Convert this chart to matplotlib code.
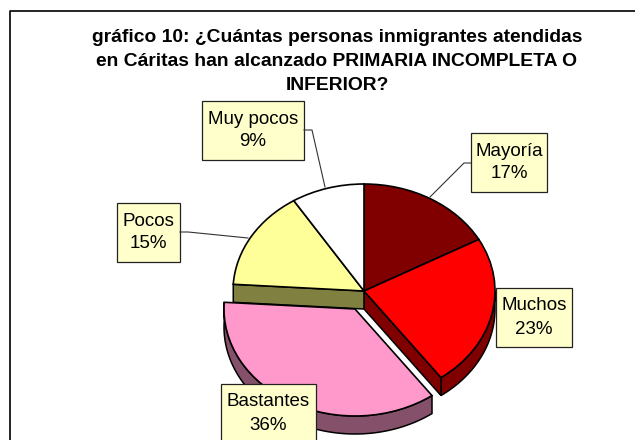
import numpy as np
from matplotlib import pyplot as plt
from matplotlib.patches import Rectangle

labels = ['Mayoría', 'Muchos', 'Bastantes', 'Pocos', 'Muy pocos']
values = [17, 23, 36, 15, 9]
colors = ['#800000', '#FF0000', '#FF99CC', '#FFFF99', '#FFFFFF']
title_lines = ['gráfico 10: ¿Cuántas personas inmigrantes atendidas',
               'en Cáritas han alcanzado PRIMARIA INCOMPLETA O',
               'INFERIOR?']

plt.rcParams['font.family'] = ['Liberation Sans', 'DejaVu Sans']

# pie geometry, in pixels of the 635x440 picture
cx, cy, rx, ry = 364, 291, 131, 107
depth = 18 / ry
shift = (-9 / rx, -18 / ry)

# label box (left, top, width, height) and leader line, in pixels
boxes = [(471, 133, 76, 59), (496, 288, 76, 59), (221, 384, 95, 59), (117, 203, 63, 59), (202, 101, 102, 59)]
leaders = [[(471, 163), (464, 163), (430, 197)], None, None,
           [(180, 232), (188, 232), (248, 238)], [(304, 130), (312, 130), (325, 187)]]

fig = plt.figure(figsize=(6.35, 4.4), dpi=100, facecolor='white')
ax = fig.add_axes([0, 0, 1, 1])
wedges, _ = ax.pie(values, colors=colors, startangle=90, counterclock=False,
                   wedgeprops={'edgecolor': 'black', 'linewidth': 1.2, 'zorder': 3})
ax.set_aspect('auto')
ax.set_xlim(-cx / rx, (635 - cx) / rx)
ax.set_ylim((cy - 440) / ry, cy / ry)
wedges[2].set_center(shift)
wedges[2].set_zorder(4)

def arc_wall(theta1, theta2, color, offset=(0, 0), zorder=2):
    t = np.radians(np.linspace(theta1, theta2, 80))
    x, y = np.cos(t) + offset[0], np.sin(t) + offset[1]
    ax.fill(np.r_[x, x[::-1]], np.r_[y, y[::-1] - depth], facecolor=color,
            edgecolor='black', linewidth=1.1, zorder=zorder)

def cut_face(theta, color):
    t = np.radians(theta)
    x, y = [0, np.cos(t), np.cos(t), 0], [0, np.sin(t), np.sin(t) - depth, -depth]
    ax.fill(x, y, facecolor=color, edgecolor='black', linewidth=1.1, zorder=2)

arc_wall(wedges[1].theta1, 0, '#800000')
cut_face(wedges[1].theta1, '#800000')
cut_face(wedges[3].theta2, '#808040')
arc_wall(wedges[2].theta1, wedges[2].theta2, '#85506A', shift, zorder=2.5)

# overlay in picture pixels for frame, title and labels
over = fig.add_axes([0, 0, 1, 1], facecolor='none')
over.set_xlim(0, 635)
over.set_ylim(440, 0)
over.axis('off')
over.plot([10, 10, 635], [440, 11, 11], color='black', linewidth=1.2, clip_on=False)

for k, line in enumerate(title_lines):
    over.text(337, 37 + 24.2 * k, line, ha='center', va='center', fontsize=13.9, fontweight='bold', color='black')

for k in range(len(labels)):
    if leaders[k] is not None:
        over.plot(*zip(*leaders[k]), color='#333333', linewidth=0.8)
    left, top, w, h = boxes[k]
    over.add_patch(Rectangle((left, top), w, h, facecolor='#FFFFCC', edgecolor='#222222', linewidth=0.9))
    over.text(left + w / 2, top + 18, labels[k], ha='center', va='center', fontsize=13.5, color='black')
    over.text(left + w / 2, top + 41, f'{values[k]}%', ha='center', va='center', fontsize=13.5, color='black')

fig.savefig('out.png', dpi=100)
